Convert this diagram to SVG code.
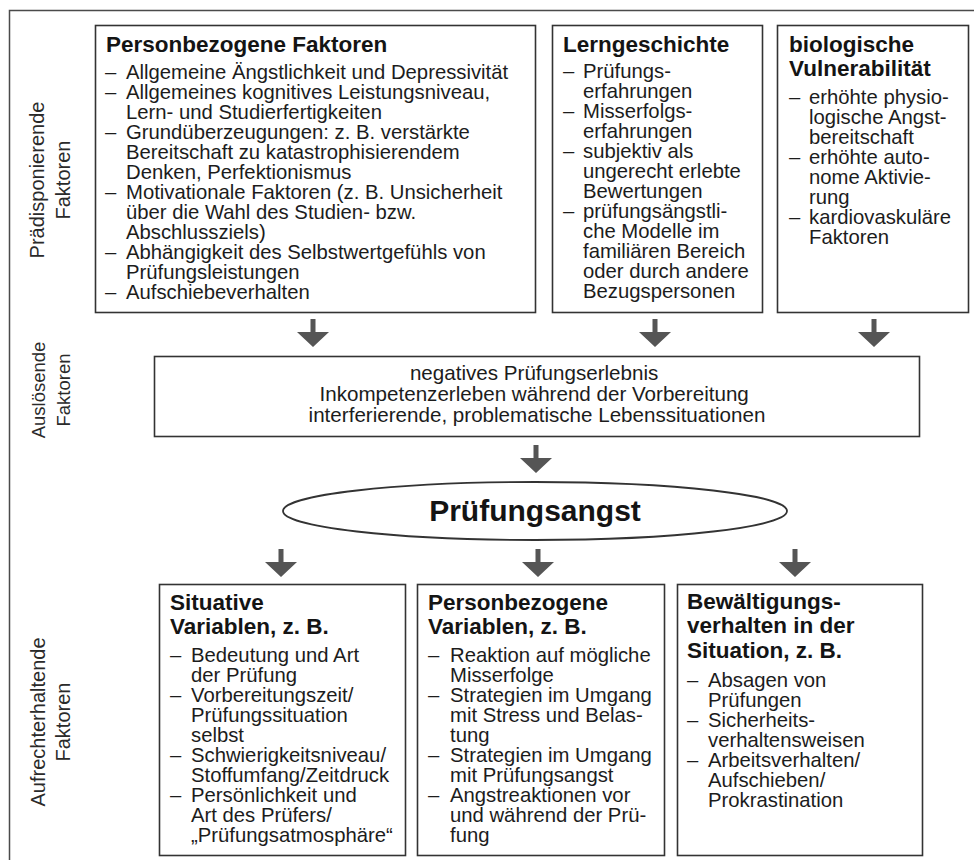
<svg xmlns="http://www.w3.org/2000/svg" width="974" height="860" viewBox="0 0 974 860">
  <style>
    .frame { fill: none; stroke: #4a4a4a; stroke-width: 1.5; }
    .box { fill: #ffffff; stroke: #333333; stroke-width: 1.6; }
    .title { font-family: "Liberation Sans", Arial, sans-serif; font-weight: bold; font-size: 22.5px; fill: #141414; }
    .body { font-family: "Liberation Sans", Arial, sans-serif; font-size: 20.3px; fill: #1c1c1c; }
    .side { font-family: "Liberation Sans", Arial, sans-serif; font-size: 20px; fill: #2a2a2a; text-anchor: middle; }
    .mid { font-family: "Liberation Sans", Arial, sans-serif; font-size: 20.6px; fill: #1c1c1c; text-anchor: middle; }
    .core { font-family: "Liberation Sans", Arial, sans-serif; font-weight: bold; font-size: 30px; fill: #141414; text-anchor: middle; }
    .arrow { fill: #555555; }
  </style>
  <defs>
    <!-- block arrow, tip at (0,28) -->
    <path id="arrowDown" d="M-2.5,0 H2.5 V13 H16 L0,28 L-16,13 H-2.5 Z"/>
  </defs>

  <rect width="974" height="860" fill="#ffffff"/>

  <!-- outer frame (right and bottom edges run off the page) -->
  <path class="frame" d="M9.5,875 V10.5 H990"/>

  <!-- row labels -->
  <g id="label-praedisponierend">
    <text class="side" transform="translate(44,180) rotate(-90)">Prädisponierende</text>
    <text class="side" transform="translate(70,180) rotate(-90)">Faktoren</text>
  </g>
  <g id="label-ausloesend">
    <text class="side" transform="translate(45,390) rotate(-90)" style="font-size:18.5px">Auslösende</text>
    <text class="side" transform="translate(70,390) rotate(-90)" style="font-size:18.5px">Faktoren</text>
  </g>
  <g id="label-aufrechterhaltend">
    <text class="side" transform="translate(45,722) rotate(-90)">Aufrechterhaltende</text>
    <text class="side" transform="translate(70,722) rotate(-90)">Faktoren</text>
  </g>

  <!-- predisposing factors -->
  <g id="personbezogene-faktoren">
    <rect class="box" x="95.5" y="25.5" width="440" height="287"/>
    <text class="title" x="106" y="52">Personbezogene Faktoren</text>
    <text class="body">
      <tspan x="105" y="79">–</tspan><tspan x="126" y="79">Allgemeine Ängstlichkeit und Depressivität</tspan>
      <tspan x="105" y="99">–</tspan><tspan x="126" y="99">Allgemeines kognitives Leistungsniveau,</tspan>
      <tspan x="126" y="119">Lern- und Studierfertigkeiten</tspan>
      <tspan x="105" y="139">–</tspan><tspan x="126" y="139">Grundüberzeugungen: z. B. verstärkte</tspan>
      <tspan x="126" y="159">Bereitschaft zu katastrophisierendem</tspan>
      <tspan x="126" y="179">Denken, Perfektionismus</tspan>
      <tspan x="105" y="199">–</tspan><tspan x="126" y="199">Motivationale Faktoren (z. B. Unsicherheit</tspan>
      <tspan x="126" y="219">über die Wahl des Studien- bzw.</tspan>
      <tspan x="126" y="239">Abschlussziels)</tspan>
      <tspan x="105" y="259">–</tspan><tspan x="126" y="259">Abhängigkeit des Selbstwertgefühls von</tspan>
      <tspan x="126" y="279">Prüfungsleistungen</tspan>
      <tspan x="105" y="299">–</tspan><tspan x="126" y="299">Aufschiebeverhalten</tspan>
    </text>
  </g>

  <g id="lerngeschichte">
    <rect class="box" x="552.5" y="25.5" width="210" height="287"/>
    <text class="title" x="563" y="52">Lerngeschichte</text>
    <text class="body">
      <tspan x="563" y="78">–</tspan><tspan x="583" y="78">Prüfungs-</tspan>
      <tspan x="583" y="98">erfahrungen</tspan>
      <tspan x="563" y="118">–</tspan><tspan x="583" y="118">Misserfolgs-</tspan>
      <tspan x="583" y="138">erfahrungen</tspan>
      <tspan x="563" y="158">–</tspan><tspan x="583" y="158">subjektiv als</tspan>
      <tspan x="583" y="178">ungerecht erlebte</tspan>
      <tspan x="583" y="198">Bewertungen</tspan>
      <tspan x="563" y="218">–</tspan><tspan x="583" y="218">prüfungsängstli-</tspan>
      <tspan x="583" y="238">che Modelle im</tspan>
      <tspan x="583" y="258">familiären Bereich</tspan>
      <tspan x="583" y="278">oder durch andere</tspan>
      <tspan x="583" y="298">Bezugspersonen</tspan>
    </text>
  </g>

  <g id="biologische-vulnerabilitaet">
    <rect class="box" x="777.5" y="25.5" width="191" height="287"/>
    <text class="title">
      <tspan x="789" y="52">biologische</tspan>
      <tspan x="789" y="76">Vulnerabilität</tspan>
    </text>
    <text class="body">
      <tspan x="789" y="104">–</tspan><tspan x="809" y="104">erhöhte physio-</tspan>
      <tspan x="809" y="124">logische Angst-</tspan>
      <tspan x="809" y="144">bereitschaft</tspan>
      <tspan x="789" y="164">–</tspan><tspan x="809" y="164">erhöhte auto-</tspan>
      <tspan x="809" y="184">nome Aktivie-</tspan>
      <tspan x="809" y="204">rung</tspan>
      <tspan x="789" y="224">–</tspan><tspan x="809" y="224">kardiovaskuläre</tspan>
      <tspan x="809" y="244">Faktoren</tspan>
    </text>
  </g>

  <!-- triggering factors -->
  <g id="ausloesende-faktoren">
    <rect class="box" x="154.5" y="356.5" width="765" height="80"/>
    <text class="mid">
      <tspan x="537" y="380">negatives Prüfungserlebnis</tspan>
      <tspan x="537" y="401">Inkompetenzerleben während der Vorbereitung</tspan>
      <tspan x="537" y="422">interferierende, problematische Lebenssituationen</tspan>
    </text>
  </g>

  <!-- central outcome -->
  <g id="pruefungsangst">
    <ellipse cx="535" cy="511" rx="252" ry="29" fill="#ffffff" stroke="#333333" stroke-width="1.8"/>
    <text class="core" x="535" y="521">Prüfungsangst</text>
  </g>

  <!-- maintaining factors -->
  <g id="situative-variablen">
    <rect class="box" x="159.5" y="584.5" width="246" height="271"/>
    <text class="title">
      <tspan x="170" y="610">Situative</tspan>
      <tspan x="170" y="634">Variablen, z. B.</tspan>
    </text>
    <text class="body">
      <tspan x="170" y="662">–</tspan><tspan x="191" y="662">Bedeutung und Art</tspan>
      <tspan x="191" y="682">der Prüfung</tspan>
      <tspan x="170" y="702">–</tspan><tspan x="191" y="702">Vorbereitungszeit/</tspan>
      <tspan x="191" y="722">Prüfungssituation</tspan>
      <tspan x="191" y="742">selbst</tspan>
      <tspan x="170" y="762">–</tspan><tspan x="191" y="762">Schwierigkeitsniveau/</tspan>
      <tspan x="191" y="782">Stoffumfang/Zeitdruck</tspan>
      <tspan x="170" y="802">–</tspan><tspan x="191" y="802">Persönlichkeit und</tspan>
      <tspan x="191" y="822">Art des Prüfers/</tspan>
      <tspan x="191" y="842">„Prüfungsatmosphäre“</tspan>
    </text>
  </g>

  <g id="personbezogene-variablen">
    <rect class="box" x="417.5" y="584.5" width="247" height="271"/>
    <text class="title">
      <tspan x="428" y="610">Personbezogene</tspan>
      <tspan x="428" y="634">Variablen, z. B.</tspan>
    </text>
    <text class="body">
      <tspan x="428" y="662">–</tspan><tspan x="450" y="662">Reaktion auf mögliche</tspan>
      <tspan x="450" y="682">Misserfolge</tspan>
      <tspan x="428" y="702">–</tspan><tspan x="450" y="702">Strategien im Umgang</tspan>
      <tspan x="450" y="722">mit Stress und Belas-</tspan>
      <tspan x="450" y="742">tung</tspan>
      <tspan x="428" y="762">–</tspan><tspan x="450" y="762">Strategien im Umgang</tspan>
      <tspan x="450" y="782">mit Prüfungsangst</tspan>
      <tspan x="428" y="802">–</tspan><tspan x="450" y="802">Angstreaktionen vor</tspan>
      <tspan x="450" y="822">und während der Prü-</tspan>
      <tspan x="450" y="842">fung</tspan>
    </text>
  </g>

  <g id="bewaeltigungsverhalten">
    <rect class="box" x="677.5" y="584.5" width="245" height="271"/>
    <text class="title">
      <tspan x="687" y="609">Bewältigungs-</tspan>
      <tspan x="687" y="633">verhalten in der</tspan>
      <tspan x="687" y="658">Situation, z. B.</tspan>
    </text>
    <text class="body">
      <tspan x="687" y="687">–</tspan><tspan x="708" y="687">Absagen von</tspan>
      <tspan x="708" y="707">Prüfungen</tspan>
      <tspan x="687" y="727">–</tspan><tspan x="708" y="727">Sicherheits-</tspan>
      <tspan x="708" y="747">verhaltensweisen</tspan>
      <tspan x="687" y="767">–</tspan><tspan x="708" y="767">Arbeitsverhalten/</tspan>
      <tspan x="708" y="787">Aufschieben/</tspan>
      <tspan x="708" y="807">Prokrastination</tspan>
    </text>
  </g>

  <!-- connectors -->
  <g id="connectors" class="arrow">
    <use href="#arrowDown" x="313" y="319"/>
    <use href="#arrowDown" x="655" y="319"/>
    <use href="#arrowDown" x="874" y="319"/>
    <use href="#arrowDown" x="536" y="445"/>
    <use href="#arrowDown" x="281" y="549"/>
    <use href="#arrowDown" x="538" y="549"/>
    <use href="#arrowDown" x="795" y="549"/>
  </g>
</svg>
